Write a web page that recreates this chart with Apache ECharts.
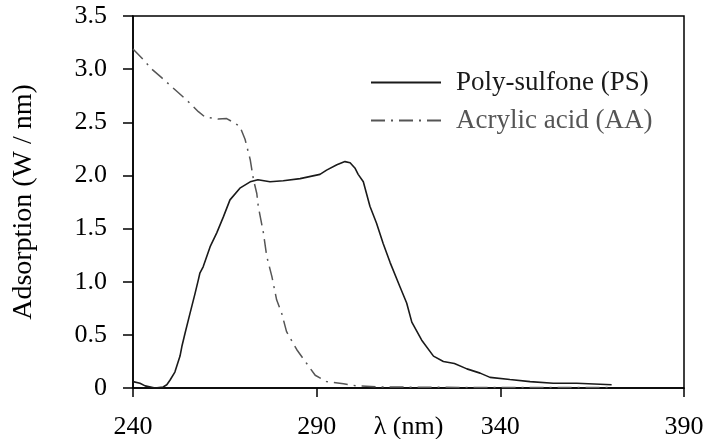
<!DOCTYPE html>
<html>
<head>
<meta charset="utf-8">
<script src="https://cdn.jsdelivr.net/npm/echarts@6/dist/echarts.min.js"></script>
<style>
  html, body { margin: 0; padding: 0; background: #fff; }
  #main { width: 704px; height: 439px; }
</style>
</head>
<body>
<div id="main"></div>
<script>
// Poly-sulfone (PS)
const psX = [240, 241.9, 243.3, 246, 248.2, 249.2, 250.1, 251.4, 252.8, 253.3, 254.2, 255.5, 256.9, 257.8, 258.2, 259.1,
  261, 262.8, 264.6, 266.4, 269.1, 271.9, 274, 277.3, 280.9, 285.5, 290.9, 292.7, 295.5, 297.7, 299.1, 300.4, 301.3,
  302.7, 304.5, 306.3, 308.1, 310, 312.7, 314.5, 315.9, 318.6, 321.8, 324.5, 327.5, 330.9, 334.5, 337.2, 342.6, 348.1,
  354.4, 360.8, 370.3]
const psY = [0.06, 0.044, 0.02, 0.0, 0.01, 0.03, 0.075, 0.15, 0.3, 0.39, 0.52, 0.7, 0.89, 1.02, 1.08, 1.14,
  1.33, 1.46, 1.61, 1.77, 1.88, 1.94, 1.96, 1.94, 1.95, 1.97, 2.01, 2.05, 2.1, 2.13, 2.12, 2.07, 2.01,
  1.94, 1.71, 1.55, 1.36, 1.18, 0.95, 0.8, 0.62, 0.45, 0.3, 0.25, 0.23, 0.18, 0.14, 0.1, 0.08, 0.06,
  0.044, 0.044, 0.03]

// Acrylic acid (AA)
const aaX = [240, 242.8, 245.1, 247.8, 252.3, 255.5, 257.8, 259.6, 263.2, 265.5, 267.8, 269.1, 270.5, 271.9, 272.8,
  273.7, 274.1, 275.5, 276.4, 277.8, 279.1, 280.5, 281.8, 284.6, 287.3, 289.6, 292.7, 297.3, 300.9, 307.2, 330, 370.3]
const aaY = [3.19, 3.09, 3.0, 2.92, 2.78, 2.68, 2.6, 2.55, 2.53, 2.535, 2.49, 2.46, 2.34, 2.15, 1.96,
  1.83, 1.71, 1.46, 1.24, 1.05, 0.83, 0.7, 0.53, 0.36, 0.23, 0.12, 0.06, 0.04, 0.02, 0.01, 0.005, 0.005]

const seriesNames = ['Poly-sulfone (PS)', 'Acrylic acid (AA)']
const xTicks = [240, 290, 340, 390]
const yTicks = [0, 0.5, 1, 1.5, 2, 2.5, 3, 3.5]

const font = 'Liberation Serif, Times New Roman, serif'

const chart = echarts.init(document.getElementById('main'))
const option = {
  animation: false,
  backgroundColor: '#fff',
  grid: {
    left: 133,
    right: 20,
    top: 16,
    bottom: 51,
    outerBoundsMode: 'none',
    show: true,
    borderColor: '#000',
    borderWidth: 1.5,
  },
  legend: {
    orient: 'vertical',
    left: 370,
    top: 69,
    padding: 0,
    itemWidth: 70,
    itemHeight: 14,
    itemGap: 11,
    itemStyle: { opacity: 0 }, // hide the circle marker, keep the line
    textStyle: { fontFamily: font, fontSize: 27, padding: [0, 0, 0, 10] },
    data: [
      { name: seriesNames[0], textStyle: { color: '#1a1a1a' } },
      { name: seriesNames[1], textStyle: { color: '#555' } },
    ],
  },
  xAxis: {
    type: 'value',
    min: xTicks[0],
    max: xTicks[xTicks.length - 1],
    interval: 50,
    name: 'λ (nm)',
    nameLocation: 'middle',
    nameGap: 26,
    nameMoveOverlap: false,
    nameTextStyle: { fontFamily: font, fontSize: 26, color: '#000' },
    axisLine: { show: true, onZero: false, lineStyle: { color: '#000', width: 1.5 } },
    axisTick: { show: true, inside: false, length: 9, lineStyle: { color: '#000', width: 1.5 } },
    axisLabel: { fontFamily: font, fontSize: 26, color: '#000', margin: 26 },
    splitLine: { show: false },
  },
  yAxis: {
    type: 'value',
    min: yTicks[0],
    max: yTicks[yTicks.length - 1],
    interval: 0.5,
    name: 'Adsorption (W / nm)',
    nameLocation: 'middle',
    nameGap: 95,
    nameMoveOverlap: false,
    nameTextStyle: { fontFamily: font, fontSize: 28, color: '#000' },
    axisLine: { show: true, lineStyle: { color: '#000', width: 1.5 } },
    axisTick: { show: true, inside: false, length: 10, lineStyle: { color: '#000', width: 1.5 } },
    axisLabel: {
      fontFamily: font,
      fontSize: 26,
      color: '#000',
      margin: 26,
      formatter: (v) => (v === 0 ? '0' : v.toFixed(1)),
    },
    splitLine: { show: false },
  },
  series: [
    {
      name: seriesNames[0],
      type: 'line',
      symbol: 'none',
      smooth: false,
      data: psX.map((x, i) => [x, psY[i]]),
      lineStyle: { color: '#1a1a1a', width: 1.6 },
      itemStyle: { color: '#1a1a1a' },
    },
    {
      name: seriesNames[1],
      type: 'line',
      symbol: 'none',
      smooth: false,
      data: aaX.map((x, i) => [x, aaY[i]]),
      lineStyle: { color: '#555', width: 1.5, type: [14, 6, 2, 6] },
      itemStyle: { color: '#555' },
    },
  ],
}
chart.setOption(option)
</script>
</body>
</html>
